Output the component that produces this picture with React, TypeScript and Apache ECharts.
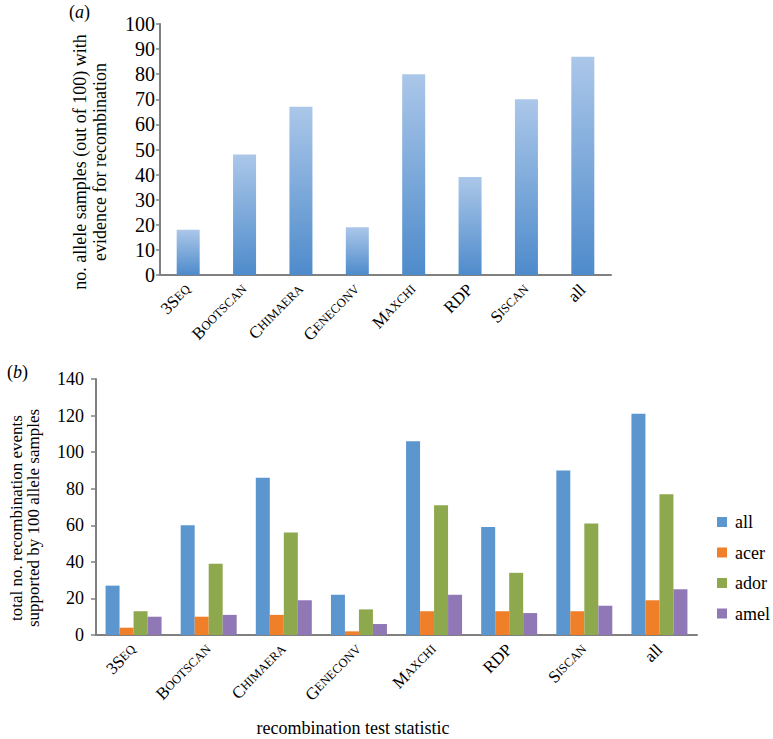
import React, { useEffect, useRef } from "react";
import * as echarts from "echarts";

const categories = ["3Seq", "Bootscan", "Chimaera", "Geneconv", "Maxchi", "RDP", "SIscan", "all"];
// small-caps rendering: [large part, small-caps part]
const categoryCaps: [string, string][] = [
  ["3S", "EQ"],
  ["B", "OOTSCAN"],
  ["C", "HIMAERA"],
  ["G", "ENECONV"],
  ["M", "AXCHI"],
  ["RDP", ""],
  ["S", "ISCAN"],
  ["all", ""],
];

const samplesWithEvidence = [18, 48, 67, 19, 80, 39, 70, 87];

const seriesNames = ["all", "acer", "ador", "amel"];
const allValues = [27, 60, 86, 22, 106, 59, 90, 121];
const acerValues = [4, 10, 11, 2, 13, 13, 13, 19];
const adorValues = [13, 39, 56, 14, 71, 34, 61, 77];
const amelValues = [10, 11, 19, 6, 22, 12, 16, 25];
const seriesColors = ["#5B96CE", "#F07F2A", "#8EA84E", "#8F78B5"];

const FONT = "Liberation Serif, Times New Roman, serif";
const AXIS_COLOR = "#808080";

function capFormatter(value: string) {
  const i = categories.indexOf(value);
  const [big, small] = categoryCaps[i] || [value, ""];
  return small ? `{b|${big}}{s|${small}}` : `{b|${big}}`;
}

export default function App() {
  const ref = useRef<HTMLDivElement>(null);
  useEffect(() => {
    if (!ref.current) return;
    const chart = echarts.init(ref.current, undefined, { renderer: "svg" });
    const xLabel = {
      rotate: 45,
      margin: 12,
      color: "#000",
      fontFamily: FONT,
      formatter: capFormatter,
      rich: {
        b: { fontSize: 17, fontFamily: FONT, color: "#000" },
        s: { fontSize: 12.5, fontFamily: FONT, color: "#000" },
      },
    };
    const axisLine = { show: true, lineStyle: { color: AXIS_COLOR, width: 2 } };
    const multi = [allValues, acerValues, adorValues, amelValues];
    chart.setOption({
      animation: false,
      textStyle: { fontFamily: FONT },
      grid: [
        { left: 160, right: 162, top: 24, bottom: 464 },
        { left: 96, right: 76, top: 379, bottom: 104 },
      ],
      xAxis: [
        { type: "category", gridIndex: 0, data: categories, axisLine, axisTick: { show: false }, axisLabel: xLabel },
        { type: "category", gridIndex: 1, data: categories, axisLine, axisTick: { show: false }, axisLabel: xLabel },
      ],
      yAxis: [
        {
          type: "value",
          gridIndex: 0,
          min: 0,
          max: 100,
          interval: 10,
          axisLine,
          axisTick: { show: true, length: 4, lineStyle: { color: AXIS_COLOR, width: 1.5 } },
          axisLabel: { margin: 5, fontSize: 20, color: "#000", fontFamily: FONT },
          splitLine: { show: false },
        },
        {
          type: "value",
          gridIndex: 1,
          min: 0,
          max: 140,
          interval: 20,
          axisLine,
          axisTick: { show: true, length: 5, lineStyle: { color: AXIS_COLOR, width: 1.5 } },
          axisLabel: { margin: 12, fontSize: 18, color: "#000", fontFamily: FONT },
          splitLine: { show: false },
        },
      ],
      legend: {
        orient: "vertical",
        left: 717,
        top: 513,
        padding: 0,
        itemWidth: 10,
        itemHeight: 10,
        itemGap: 12.5,
        icon: "rect",
        data: seriesNames,
        textStyle: { fontSize: 18, fontFamily: FONT, color: "#000", lineHeight: 18, padding: [0, 0, 0, 3] },
      },
      series: [
        {
          type: "bar",
          xAxisIndex: 0,
          yAxisIndex: 0,
          data: samplesWithEvidence,
          barWidth: 23,
          itemStyle: {
            color: new echarts.graphic.LinearGradient(0, 0, 0, 1, [
              { offset: 0, color: "#ABC7E9" },
              { offset: 1, color: "#4E8BCB" },
            ]),
          },
        },
        ...seriesNames.map((name, k) => ({
          type: "bar",
          name,
          xAxisIndex: 1,
          yAxisIndex: 1,
          data: multi[k],
          barWidth: 14,
          barGap: "0%",
          itemStyle: { color: seriesColors[k] },
        })),
      ],
      graphic: [
        {
          type: "text",
          left: 69,
          top: 3,
          style: {
            text: "({i|a})",
            fontSize: 18,
            fontFamily: FONT,
            fill: "#000",
            rich: { i: { fontStyle: "italic", fontSize: 18, fontFamily: FONT } },
          },
        },
        {
          type: "text",
          left: 7,
          top: 363,
          style: {
            text: "({i|b})",
            fontSize: 18,
            fontFamily: FONT,
            fill: "#000",
            rich: { i: { fontStyle: "italic", fontSize: 18, fontFamily: FONT } },
          },
        },
        {
          type: "text",
          x: 90,
          y: 162,
          rotation: Math.PI / 2,
          style: {
            text: "no. allele samples (out of 100) with\nevidence for recombination",
            fontSize: 18,
            lineHeight: 20,
            fontFamily: FONT,
            fill: "#000",
            align: "center",
            verticalAlign: "middle",
          },
        },
        {
          type: "text",
          x: 25,
          y: 518,
          rotation: Math.PI / 2,
          style: {
            text: "total no. recombination events\nsupported by 100 allele samples",
            fontSize: 17,
            lineHeight: 16.5,
            fontFamily: FONT,
            fill: "#000",
            align: "center",
            verticalAlign: "middle",
          },
        },
        {
          type: "text",
          x: 353,
          y: 728,
          style: {
            text: "recombination test statistic",
            fontSize: 18,
            fontFamily: FONT,
            fill: "#000",
            align: "center",
            verticalAlign: "middle",
          },
        },
      ],
    });
    return () => chart.dispose();
  }, []);
  return (
    <div
      ref={ref}
      style={{ position: "fixed", left: 0, top: 0, width: 773, height: 739, background: "#fff" }}
    />
  );
}
